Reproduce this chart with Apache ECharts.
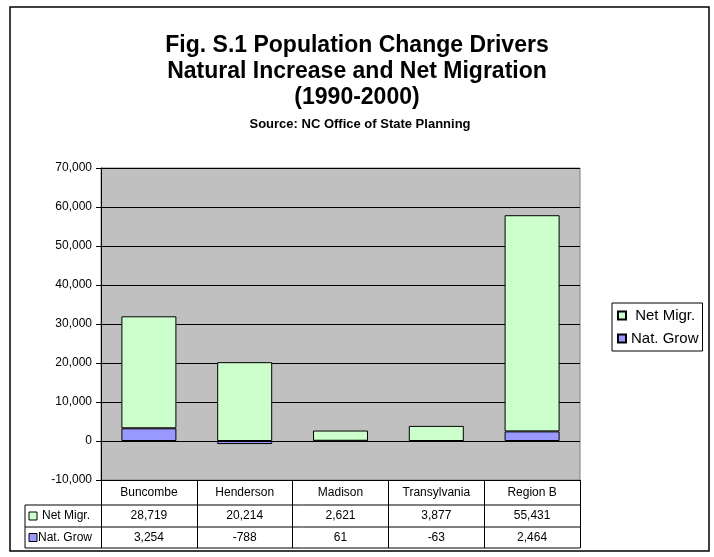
<!DOCTYPE html>
<html>
<head>
<meta charset="utf-8">
<script src="https://cdn.jsdelivr.net/npm/echarts@6/dist/echarts.min.js"></script>
<style>html,body{margin:0;padding:0;background:#fff}#c{width:714px;height:557px}</style>
</head>
<body>
<div id="c"></div>
<script>
const categories = ['Buncombe', 'Henderson', 'Madison', 'Transylvania', 'Region B'];
const netMigr = [28719, 20214, 2621, 3877, 55431];
const natGrow = [3254, -788, 61, -63, 2464];
const seriesNames = ['Net Migr.', 'Nat. Grow'];
const yTicks = { min: -10000, max: 70000, interval: 10000 };

const FONT = '"Liberation Sans", Arial, sans-serif';
const fmt = v => v.toLocaleString('en-US');

const chart = echarts.init(document.getElementById('c'));
chart.setOption({
  animation: false,
  backgroundColor: '#fff',
  textStyle: { fontFamily: FONT },
  title: [
    {
      text: 'Fig. S.1 Population Change Drivers\nNatural Increase and Net Migration\n(1990-2000)',
      left: 352, top: 28, textAlign: 'center',
      textStyle: { fontFamily: FONT, fontSize: 23, fontWeight: 'bold', color: '#000', lineHeight: 26 }
    },
    {
      text: 'Source: NC Office of State Planning',
      left: 355, top: 112, textAlign: 'center',
      textStyle: { fontFamily: FONT, fontSize: 13, fontWeight: 'bold', color: '#000', lineHeight: 15 }
    }
  ],
  legend: {
    data: seriesNames,
    orient: 'vertical',
    left: 612, top: 303,
    borderColor: '#000', borderWidth: 1,
    padding: [5, 4, 5, 5],
    itemGap: 8,
    itemWidth: 8, itemHeight: 8,
    icon: 'rect',
    formatter: n => n === 'Net Migr.' ? ' ' + n : n,
    textStyle: { fontFamily: FONT, fontSize: 15, color: '#000' }
  },
  grid: {
    left: 101, right: 134, top: 168, bottom: 77,
    show: true, backgroundColor: '#C0C0C0', borderColor: '#808080', borderWidth: 1
  },
  xAxis: {
    type: 'category',
    data: categories,
    axisLine: { onZero: false, lineStyle: { color: '#000', width: 1 } },
    axisTick: { show: true, length: 68, interval: 0, lineStyle: { color: '#000', width: 1 } },
    axisLabel: {
      interval: 0, margin: 0, color: '#000', fontFamily: FONT, fontSize: 12,
      formatter: (v, i) => `{h|${v}}\n{a|${fmt(netMigr[i])}}\n{b|${fmt(natGrow[i])}}`,
      rich: {
        h: { fontFamily: FONT, fontSize: 12, lineHeight: 25, color: '#000' },
        a: { fontFamily: FONT, fontSize: 12, lineHeight: 22, color: '#000' },
        b: { fontFamily: FONT, fontSize: 12, lineHeight: 21, color: '#000' }
      }
    }
  },
  yAxis: {
    type: 'value',
    min: yTicks.min, max: yTicks.max, interval: yTicks.interval,
    axisLine: { show: true, lineStyle: { color: '#000', width: 1 } },
    axisTick: { show: true, length: 5, lineStyle: { color: '#000' } },
    axisLabel: { color: '#000', fontFamily: FONT, fontSize: 12, margin: 9, formatter: v => fmt(v) },
    splitLine: { show: true, lineStyle: { color: '#000', width: 1 } }
  },
  series: [
    {
      name: 'Nat. Grow', type: 'bar', stack: 'total', data: natGrow, barWidth: 55,
      itemStyle: { color: '#9999FF', borderColor: '#000', borderWidth: 1 }
    },
    {
      name: 'Net Migr.', type: 'bar', stack: 'total', data: netMigr, barWidth: 55,
      itemStyle: { color: '#CCFFCC', borderColor: '#000', borderWidth: 1 }
    }
  ],
  graphic: [
    { type: 'rect', shape: { x: 10, y: 7, width: 699, height: 544 }, style: { fill: 'none', stroke: '#000', lineWidth: 1.5 }, silent: true, z: 100 },
    { type: 'line', shape: { x1: 25, y1: 505, x2: 580, y2: 505 }, style: { stroke: '#000', lineWidth: 1 } },
    { type: 'line', shape: { x1: 25, y1: 527, x2: 580, y2: 527 }, style: { stroke: '#000', lineWidth: 1 } },
    { type: 'line', shape: { x1: 25, y1: 548, x2: 580, y2: 548 }, style: { stroke: '#000', lineWidth: 1 } },
    { type: 'line', shape: { x1: 25, y1: 505, x2: 25, y2: 548 }, style: { stroke: '#000', lineWidth: 1 } },
    { type: 'rect', shape: { x: 29, y: 512, width: 8, height: 8 }, style: { fill: '#CCFFCC', stroke: '#000', lineWidth: 1 } },
    { type: 'text', x: 42, y: 516, style: { text: seriesNames[0], font: '12px ' + FONT, fill: '#000', textVerticalAlign: 'middle' } },
    { type: 'rect', shape: { x: 29, y: 533.5, width: 8, height: 8 }, style: { fill: '#9999FF', stroke: '#000', lineWidth: 1 } },
    { type: 'text', x: 38, y: 537.5, style: { text: seriesNames[1], font: '12px ' + FONT, fill: '#000', textVerticalAlign: 'middle' } }
  ]
});
</script>
</body>
</html>
